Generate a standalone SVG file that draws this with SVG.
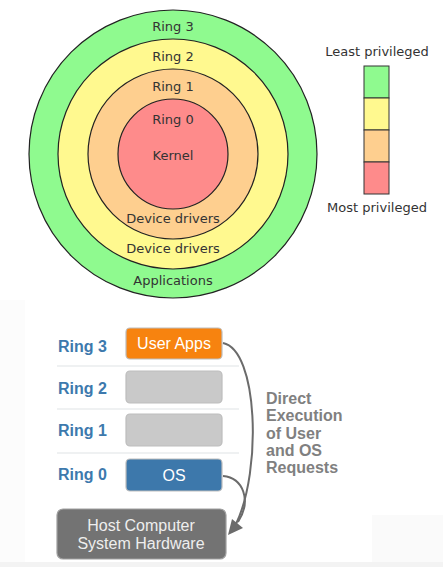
<svg xmlns="http://www.w3.org/2000/svg" width="443" height="567" viewBox="0 0 443 567">
<style>
.ring{stroke:#222;stroke-width:1.2}
.lbl{font-family:"DejaVu Sans",sans-serif;font-size:13px;fill:#333;text-anchor:middle}
.rl{font-family:"Liberation Sans",Arial,sans-serif;font-size:16px;font-weight:bold;fill:#3d79ad}
.box{stroke:#bdbdbd;stroke-width:1.2}
.bt{font-family:"Liberation Sans",Arial,sans-serif;font-size:16px;fill:#fff;text-anchor:middle}
.sep{stroke:#dfe3e6;stroke-width:1.2}
.side{font-family:"Liberation Sans",Arial,sans-serif;font-size:16px;font-weight:bold;fill:#808080}
.conn{fill:none;stroke:#6b6b6b;stroke-width:2}
</style>
<rect width="443" height="567" fill="#fff"/>
<rect x="0" y="300" width="25" height="267" fill="#fcfcfc"/>
<rect x="372" y="515" width="71" height="52" fill="#fafafa"/>
<rect x="0" y="562" width="443" height="5" fill="#f3f3f3"/>

<g id="ring3"><circle class="ring" cx="173" cy="154" r="144" fill="#8ffa8f"/><text class="lbl" x="173" y="31">Ring 3</text><text class="lbl" x="173" y="285">Applications</text></g>
<g id="ring2"><circle class="ring" cx="173" cy="154" r="115" fill="#fff98f"/><text class="lbl" x="173" y="61">Ring 2</text><text class="lbl" x="173" y="253">Device drivers</text></g>
<g id="ring1"><circle class="ring" cx="173" cy="154" r="85" fill="#fecf8f"/><text class="lbl" x="173" y="91">Ring 1</text><text class="lbl" x="173" y="223">Device drivers</text></g>
<g id="ring0"><circle class="ring" cx="173" cy="154" r="55" fill="#fe8b8b"/><text class="lbl" x="173" y="124">Ring 0</text><text class="lbl" x="173" y="160">Kernel</text></g>

<g id="legend">
<text class="lbl" x="377" y="56">Least privileged</text>
<rect x="364" y="66" width="25" height="32" fill="#8ffa8f" stroke="#333"/>
<rect x="364" y="98" width="25" height="32" fill="#fff98f" stroke="#333"/>
<rect x="364" y="130" width="25" height="32" fill="#fecf8f" stroke="#333"/>
<rect x="364" y="162" width="25" height="32" fill="#fe8b8b" stroke="#333"/>
<text class="lbl" x="377" y="212">Most privileged</text>
</g>

<g id="separators">
<line class="sep" x1="57" y1="366" x2="239" y2="366"/>
<line class="sep" x1="57" y1="409" x2="239" y2="409"/>
<line class="sep" x1="57" y1="453" x2="239" y2="453"/>
</g>

<g id="level3"><text class="rl" x="58" y="352">Ring 3</text><rect class="box" x="126" y="328" width="96" height="31" rx="4" fill="#f7830f" stroke="#e0c0a0"/><text class="bt" x="174" y="349">User Apps</text></g>
<g id="level2"><text class="rl" x="58" y="394">Ring 2</text><rect class="box" x="126" y="371" width="96" height="32" rx="4" fill="#c9c9c9"/></g>
<g id="level1"><text class="rl" x="58" y="436">Ring 1</text><rect class="box" x="126" y="414" width="96" height="32" rx="4" fill="#c9c9c9"/></g>
<g id="level0"><text class="rl" x="58" y="480">Ring 0</text><rect class="box" x="126" y="459" width="96" height="32" rx="4" fill="#3d78ab" stroke="#a8bccd"/><text class="bt" x="174" y="481">OS</text></g>

<g id="hardware"><rect x="57" y="509" width="169" height="50" rx="6" fill="#737373" stroke="#a0a0a0" stroke-width="1.2"/><text class="bt" x="141" y="531" style="fill:#eeeeee">Host Computer</text><text class="bt" x="141" y="549" style="fill:#eeeeee">System Hardware</text></g>

<g id="label"><text class="side" x="266" y="404">Direct</text><text class="side" x="266" y="421">Execution</text><text class="side" x="266" y="439">of User</text><text class="side" x="266" y="456">and OS</text><text class="side" x="266" y="473">Requests</text></g>

<g id="connectors">
<path class="conn" d="M223,343 C258,350 262,470 236,524"/>
<path class="conn" d="M223,476 C243,478 252,500 238,522"/>
<polygon points="228,535 232,519 243,528" fill="#6b6b6b"/>
</g>
</svg>
